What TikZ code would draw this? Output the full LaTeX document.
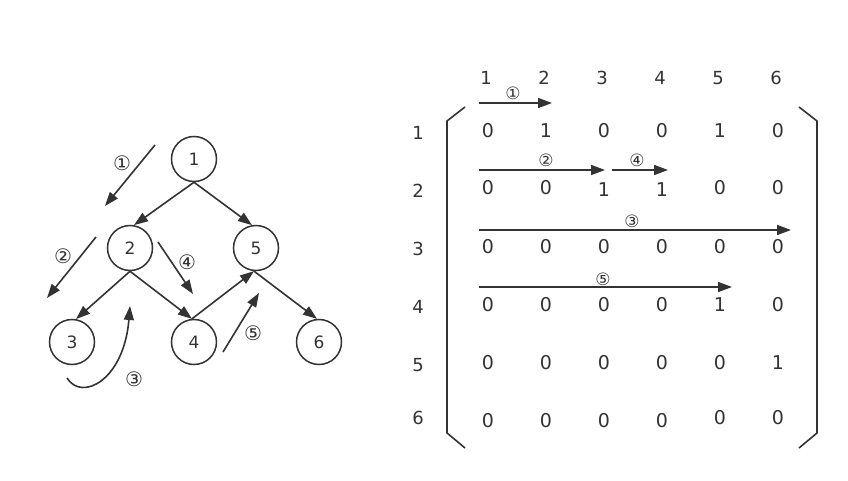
\documentclass[tikz,border=0pt]{standalone}
\usepackage{fontspec}
\setmainfont{DejaVu Sans}
\usetikzlibrary{arrows.meta}
\definecolor{ink}{HTML}{333333}
\begin{document}
\begin{tikzpicture}[x=1pt,y=-1pt,
  vtx/.style={circle,draw=ink,line width=1.5pt,minimum size=45pt,inner sep=0pt,text=ink,font=\fontsize{17}{17}\selectfont},
  edge/.style={draw=ink,line width=1.6pt,-{Triangle[length=14pt,width=10pt]}},
  num/.style={inner sep=0pt,text=ink,font=\fontsize{19}{19}\selectfont},
  hdr/.style={inner sep=0pt,text=ink,font=\fontsize{18}{18}\selectfont},
  circ/.style={inner sep=0pt,text=ink,font=\fontsize{20}{20}\selectfont},
  circs/.style={inner sep=0pt,text=ink,font=\fontsize{17}{17}\selectfont},
  brk/.style={draw=ink,line width=1.6pt}]
\useasboundingbox (0,0) rectangle (848,481);
% ---------- graph ----------
\node[vtx] (n1) at (194,159) {1};
\node[vtx] (n2) at (130,248) {2};
\node[vtx] (n5) at (256,248) {5};
\node[vtx] (n3) at (72,342) {3};
\node[vtx] (n4) at (194,342) {4};
\node[vtx] (n6) at (319,342) {6};
\draw[edge] (n1.south) -- (n2.80);
\draw[edge] (n1.south) -- (n5.100);
\draw[edge] (n2.south) -- (n3.80);
\draw[edge] (n2.south) -- (n4.95);
\draw[edge] (n4.95) -- (n5.265);
\draw[edge] (n5.265) -- (n6.95);
% traversal steps
\coordinate (g1s) at (155,145); \coordinate (g1e) at (105,206);
\coordinate (g2s) at (96,237);  \coordinate (g2e) at (47,298);
\coordinate (g3s) at (67,378);  \coordinate (g3e) at (130,306);
\coordinate (g4s) at (158,242); \coordinate (g4e) at (193,294);
\coordinate (g5s) at (223,352); \coordinate (g5e) at (259,293);
\draw[edge] (g1s) -- (g1e);
\draw[edge] (g2s) -- (g2e);
\draw[edge] (g3s) .. controls (82,402) and (124,380) .. (g3e);
\draw[edge] (g4s) -- (g4e);
\draw[edge] (g5s) -- (g5e);
\node[circ] (gl1) at (122,163) {①};
\node[circ] (gl2) at (63,256) {②};
\node[circ] (gl3) at (134,379) {③};
\node[circ] (gl4) at (187,262) {④};
\node[circ] (gl5) at (253,333) {⑤};
% ---------- matrix ----------
\foreach \c/\x in {1/486,2/544,3/602,4/660,5/718,6/776}
  \node[hdr] (h\c) at (\x,78) {\c};
\foreach \r/\y in {1/133,2/191,3/249,4/307,5/365,6/418}
  \node[hdr] (r\r) at (418,\y) {\r};
% row 1
\foreach \c/\x/\v in {1/488/0,2/546/1,3/604/0,4/662/0,5/720/1,6/778/0}
  \node[num] (m1\c) at (\x,131) {\v};
% row 2
\foreach \c/\x/\v/\y in {1/488/0/188,2/546/0/188,3/604/1/190,4/662/1/190,5/720/0/188,6/778/0/188}
  \node[num] (m2\c) at (\x,\y) {\v};
% row 3
\foreach \c/\x in {1/488,2/546,3/604,4/662,5/720,6/778}
  \node[num] (m3\c) at (\x,247) {0};
% row 4
\foreach \c/\x/\v in {1/488/0,2/546/0,3/604/0,4/662/0,5/720/1,6/778/0}
  \node[num] (m4\c) at (\x,305) {\v};
% row 5
\foreach \c/\x/\v in {1/488/0,2/546/0,3/604/0,4/662/0,5/720/0,6/778/1}
  \node[num] (m5\c) at (\x,363) {\v};
% row 6
\foreach \c/\x/\y in {1/488/421,2/546/421,3/604/421,4/662/421,5/720/418,6/778/418}
  \node[num] (m6\c) at (\x,\y) {0};
% brackets
\draw[brk] (465,107) -- (447,121) -- (447,433) -- (465,448);
\draw[brk] (799,107) -- (817,121) -- (817,433) -- (799,448);
% matrix steps
\coordinate (s1s) at (479,103); \coordinate (s1e) at (552,103);
\coordinate (s2s) at (479,170); \coordinate (s2e) at (605,170);
\coordinate (s4s) at (612,170); \coordinate (s4e) at (668,170);
\coordinate (s3s) at (479,230); \coordinate (s3e) at (791,230);
\coordinate (s5s) at (479,287); \coordinate (s5e) at (732,287);
\draw[edge] (s1s) -- (s1e);
\draw[edge] (s2s) -- (s2e);
\draw[edge] (s4s) -- (s4e);
\draw[edge] (s3s) -- (s3e);
\draw[edge] (s5s) -- (s5e);
\node[circs] (ml1) at (513,93) {①};
\node[circs] (ml2) at (546,160) {②};
\node[circs] (ml4) at (637,160) {④};
\node[circs] (ml3) at (632,221) {③};
\node[circs] (ml5) at (603,279) {⑤};
\end{tikzpicture}
\end{document}
